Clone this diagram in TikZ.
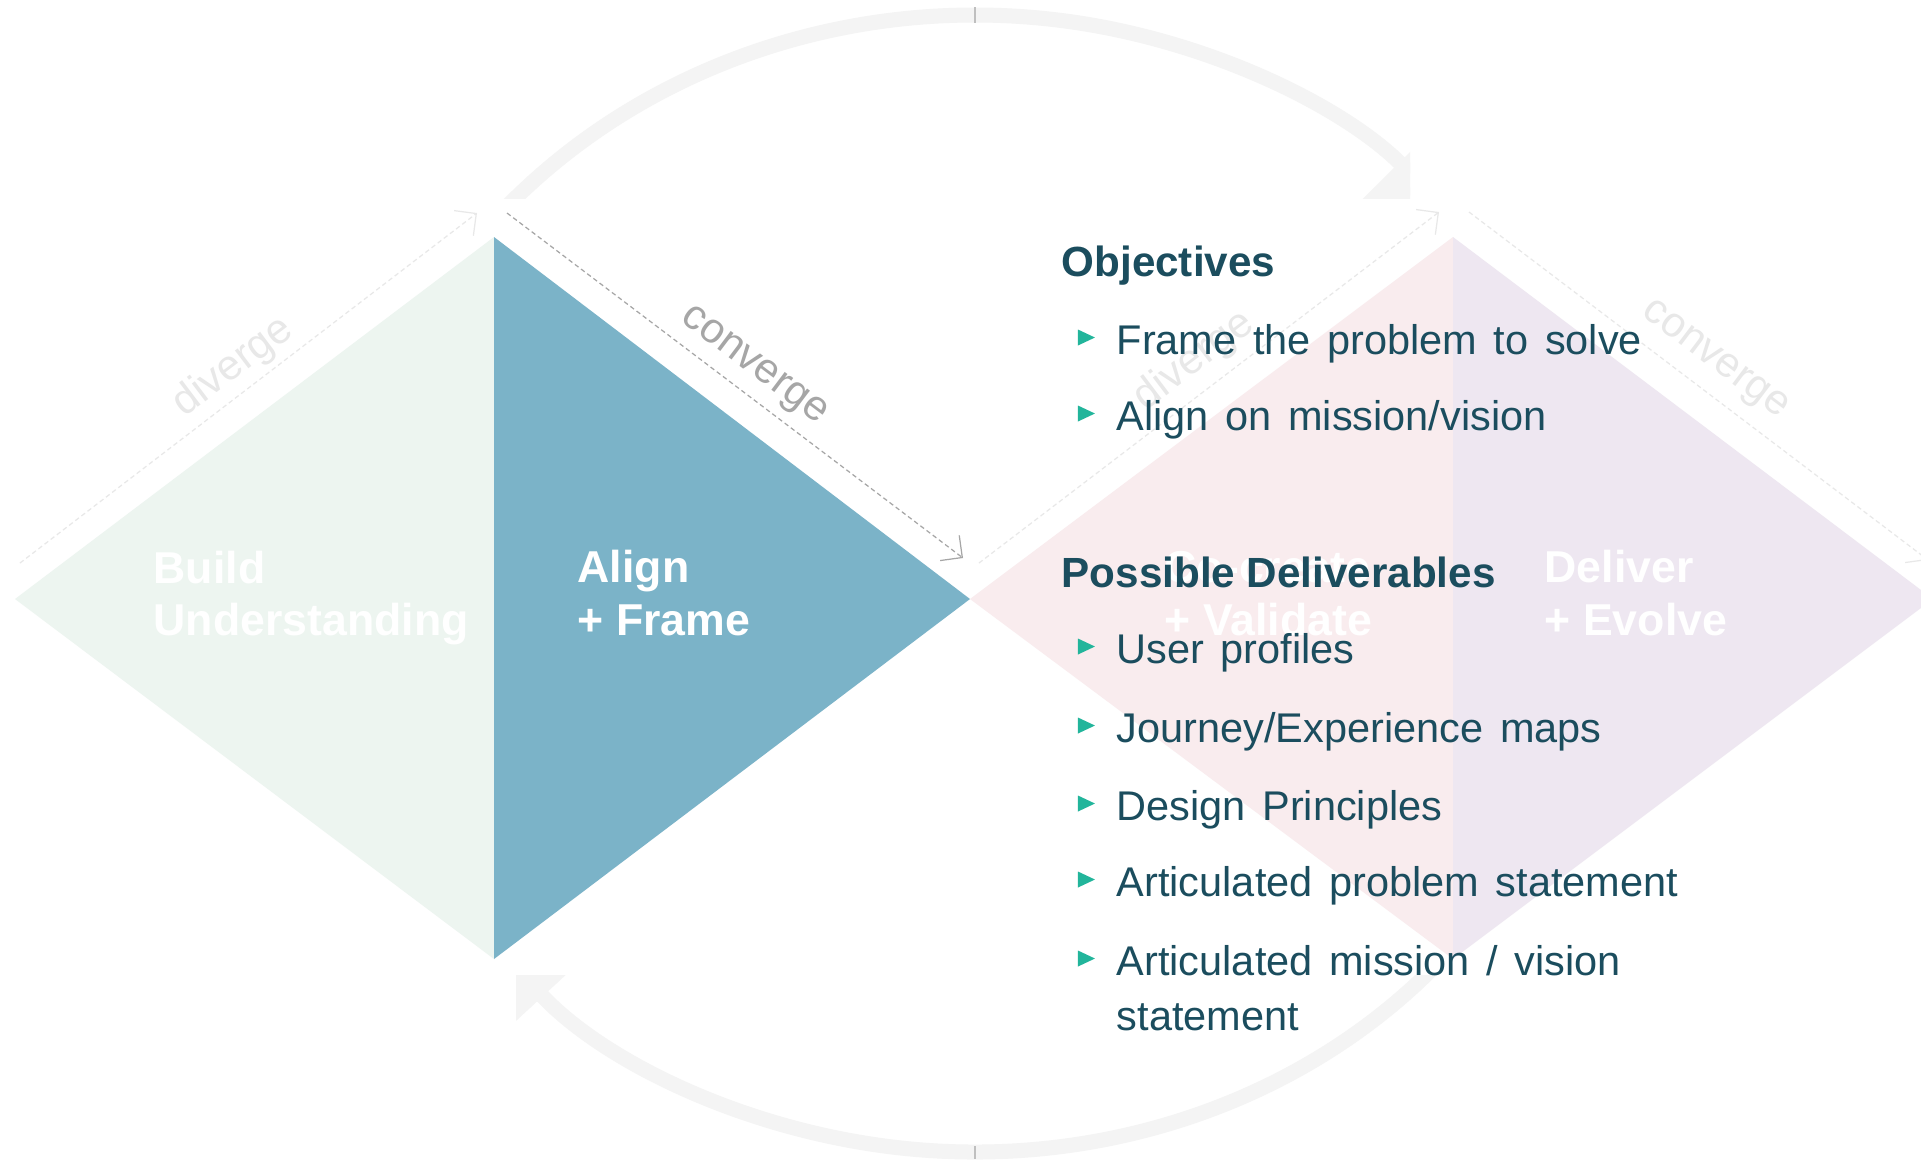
\documentclass[tikz,border=0pt]{standalone}
\usepackage{fontspec}
\setmainfont{Liberation Sans}
\usetikzlibrary{arrows.meta,shapes.geometric}

\definecolor{panelink}{HTML}{1B4D5E}
\definecolor{bulletgreen}{HTML}{22B59B}
\definecolor{alignblue}{HTML}{7BB3C8}
\definecolor{buildgreen}{HTML}{EDF5F0}
\definecolor{createpink}{HTML}{F9ECEE}
\definecolor{deliverlilac}{HTML}{EEE7F1}
\definecolor{loopgray}{HTML}{F4F4F4}
\definecolor{guidedark}{HTML}{A6A6A6}
\definecolor{guidepale}{HTML}{E8E8E8}

\newcommand\widespaces{\spaceskip 0.4em plus 0.1em\relax}

\tikzset{
  phase/.style={anchor=base west, inner sep=0pt, text=white,
    font=\fontsize{12.7}{15}\selectfont\bfseries},
  heading/.style={anchor=base west, inner sep=0pt, text=panelink,
    font=\fontsize{12}{14}\selectfont\bfseries},
  item/.style={anchor=base west, inner sep=0pt, text=panelink,
    font=\fontsize{11.8}{14}\selectfont\widespaces},
  bulletmark/.style={isosceles triangle, isosceles triangle stretches,
    minimum width=0.16cm, minimum height=0.17cm, inner sep=0pt, fill=bulletgreen},
  guide/.style={dashed, dash pattern=on 1.3pt off 0.9pt, line width=0.35pt},
  flowlbl/.style={inner sep=0pt, font=\fontsize{12}{14}\selectfont},
  loopband/.style={draw=loopgray, line width=0.15cm},
  seam/.style={draw=black!25, line width=0.3pt}
}

\begin{document}
\begin{tikzpicture}[x=0.01cm, y=-0.01cm, >={Straight Barb[length=4.5pt,width=9pt]}]
\useasboundingbox (0,0) rectangle (1921,1159);
\fill[white] (0,0) rectangle (1921,1159);

\coordinate (L1) at (15,599);
\coordinate (T1) at (494,237);
\coordinate (B1) at (494,959);
\coordinate (R1) at (970,599);
\coordinate (T2) at (1453,237);
\coordinate (B2) at (1453,959);
\coordinate (R2) at (1933,599);

\fill[buildgreen] (L1) -- (T1) -- (B1) -- cycle;
\fill[alignblue] (T1) -- (R1) -- (B1) -- cycle;
\fill[createpink] (R1) -- (T2) -- (B2) -- cycle;
\fill[deliverlilac] (T2) -- (R2) -- (B2) -- cycle;

% loop arrows
\coordinate (loopc) at (975,599);
\begin{scope}
\clip (0,0) rectangle (1410,198);
\draw[loopband, -{Triangle[length=0.6cm,width=1.0cm]}, loopgray]
  (loopc) ++(-140:632 and 584) arc[start angle=-140, end angle=-42.4, x radius=632, y radius=584];
\end{scope}
\begin{scope}
\clip (516,975) rectangle (1921,1159);
\draw[loopband, -{Triangle[length=0.6cm,width=1.0cm]}, loopgray]
  (loopc) ++(37:615 and 553) arc[start angle=37, end angle=140.3, x radius=615, y radius=553];
\end{scope}
\path[seam] (975,7) -- (975,23);
\path[seam] (975,1146) -- (975,1159);

% diverge / converge guides
\coordinate (dv1s) at (20,563);
\coordinate (dv1e) at (477,213);
\coordinate (cv1s) at (507,213);
\coordinate (cv1e) at (963,558);
\coordinate (dv2s) at (979,563);
\coordinate (dv2e) at (1439,212);
\coordinate (cv2s) at (1469,212);
\coordinate (cv2e) at (1928,560);

\path[draw=guidepale,guide,->] (dv1s) -- (dv1e);
\path[draw=guidedark,guide,->] (cv1s) -- (cv1e);
\path[draw=guidepale,guide,->] (dv2s) -- (dv2e);
\path[draw=guidepale,guide,->] (cv2s) -- (cv2e);

\node[flowlbl, text=guidepale, rotate=37] (div1) at (233,367) {diverge};
\node[flowlbl, text=guidedark, rotate=-37] (conv1) at (753,367) {converge};
\node[flowlbl, text=guidepale, rotate=37] (div2) at (1194,361) {diverge};
\node[flowlbl, text=guidepale, rotate=-37] (conv2) at (1714,361) {converge};

% phase names
\node[phase] (build) at (153,583) {Build};
\node[phase] (build2) at (153,635) {Understanding};
\node[phase] (align) at (577,582) {Align};
\node[phase] (align2) at (577,635) {+ Frame};
\node[phase] (cocreate) at (1164,582) {Co-create};
\node[phase] (cocreate2) at (1164,635) {+ Validate};
\node[phase] (deliver) at (1544,582) {Deliver};
\node[phase] (deliver2) at (1544,635) {+ Evolve};

% objectives and deliverables
\node[heading] (obj) at (1061,276) {Objectives};
\node[bulletmark] (bo1) at (1083,337.5) {};
\node[item] (o1) at (1116,354) {Frame the problem to solve};
\node[bulletmark] (bo2) at (1083,413.5) {};
\node[item] (o2) at (1116,430) {Align on mission/vision};

\node[heading] (deliv) at (1061,587) {Possible Deliverables};
\node[bulletmark] (bd1) at (1083,646.5) {};
\node[item] (d1) at (1116,663) {User profiles};
\node[bulletmark] (bd2) at (1083,725.5) {};
\node[item] (d2) at (1116,742) {Journey/Experience maps};
\node[bulletmark] (bd3) at (1083,803.5) {};
\node[item] (d3) at (1116,820) {Design Principles};
\node[bulletmark] (bd4) at (1083,879.5) {};
\node[item] (d4) at (1116,896) {Articulated problem statement};
\node[bulletmark] (bd5) at (1083,958.5) {};
\node[item] (d5) at (1116,975) {Articulated mission / vision};
\node[item] (d5b) at (1116,1030) {statement};
\end{tikzpicture}
\end{document}
